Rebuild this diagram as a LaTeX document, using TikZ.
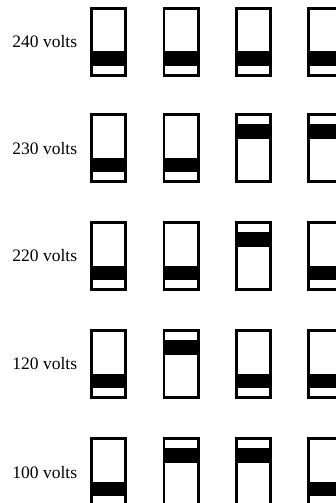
\documentclass[tikz,border=0pt]{standalone}
\usepackage{fontspec}
\setmainfont{Liberation Serif}
\begin{document}
\begin{tikzpicture}[x=1pt,y=-1pt,
  switchbox/.style={draw=black,line width=2.7pt,fill=white},
  band/.style={fill=black},
  lbl/.style={anchor=base west,inner sep=0pt,font=\fontsize{17.5}{20}\selectfont}]
\useasboundingbox (0,0) rectangle (336,503);
% columns left outer edges, row tops
\def\colA{90}\def\colB{162.5}\def\colC{234.8}\def\colD{307}
\newcommand{\sw}[4]{% name, left, top, U/L
  \draw[switchbox] (#2+1.35,#3+1.35) rectangle (#2+35.65,#3+68.65);
  \coordinate (#1) at (#2,#3);
  \if#4U\fill[band] (#2+1.35,#3+11) rectangle (#2+35.65,#3+26);\else
  \fill[band] (#2+1.35,#3+44.5) rectangle (#2+35.65,#3+59);\fi
}
% row 240
\node[lbl] (l240) at (12.3,47.3) {240 volts};
\sw{a1}{\colA}{7}{L}\sw{a2}{\colB}{7}{L}\sw{a3}{\colC}{7}{L}\sw{a4}{\colD}{7}{L}
% row 230
\node[lbl] (l230) at (12.3,154.3) {230 volts};
\sw{b1}{\colA}{113}{L}\sw{b2}{\colB}{113}{L}\sw{b3}{\colC}{113}{U}\sw{b4}{\colD}{113}{U}
% row 220
\node[lbl] (l220) at (12.3,261.8) {220 volts};
\sw{c1}{\colA}{221}{L}\sw{c2}{\colB}{221}{L}\sw{c3}{\colC}{221}{U}\sw{c4}{\colD}{221}{L}
% row 120
\node[lbl] (l120) at (12.3,369.5) {120 volts};
\sw{d1}{\colA}{329}{L}\sw{d2}{\colB}{329}{U}\sw{d3}{\colC}{329}{L}\sw{d4}{\colD}{329}{L}
% row 100
\node[lbl] (l100) at (12.3,478.5) {100 volts};
\sw{e1}{\colA}{437}{L}\sw{e2}{\colB}{437}{U}\sw{e3}{\colC}{437}{U}\sw{e4}{\colD}{437}{L}
\end{tikzpicture}
\end{document}
